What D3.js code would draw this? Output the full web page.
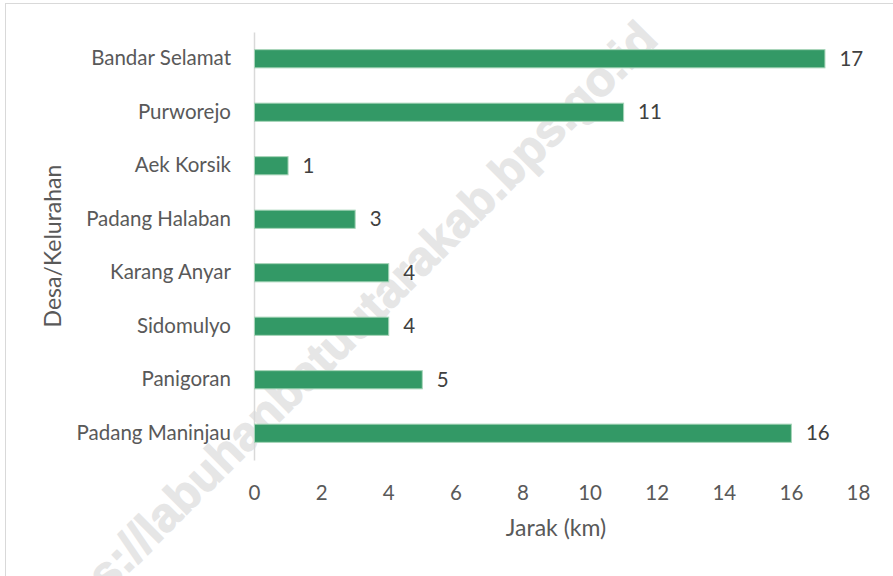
<!DOCTYPE html>
<html>
<head>
<meta charset="utf-8">
<script src="https://cdn.jsdelivr.net/npm/d3@7"></script>
<style>
  html, body { margin: 0; padding: 0; background: #ffffff; }
  svg { display: block; font-family: Lato, "Open Sans", sans-serif; }
</style>
</head>
<body>
<svg id="chart"></svg>
<script>
// Données du graphique
const desa = [
  "Bandar Selamat",
  "Purworejo",
  "Aek Korsik",
  "Padang Halaban",
  "Karang Anyar",
  "Sidomulyo",
  "Panigoran",
  "Padang Maninjau"
];
const jarak = [17, 11, 1, 3, 4, 4, 5, 16];
const xTicks = [0, 2, 4, 6, 8, 10, 12, 14, 16, 18];
const xTitle = "Jarak (km)";
const yTitle = "Desa/Kelurahan";
const watermark = "https://labuhanbatuutarakab.bps.go.id";

// Dimensions
const width = 893,
  height = 576;
const plot = { left: 254, right: 858, top: 32, bottom: 460 };
const labelSize = 20.5;

const svg = d3.select("#chart").attr("width", width).attr("height", height);

// Cadre du graphique
svg
  .append("rect")
  .attr("x", 5.5)
  .attr("y", 3.5)
  .attr("width", 920)
  .attr("height", 620)
  .attr("fill", "#ffffff")
  .attr("stroke", "#d9d9d9")
  .attr("stroke-width", 1);

// Filigrane (derrière les barres), coupé par les bords comme dans l'original
svg
  .append("text")
  .attr("transform", "translate(648,30) rotate(-45)")
  .attr("text-anchor", "end")
  .attr("dominant-baseline", "central")
  .attr("font-family", "'Liberation Sans', Arial, sans-serif")
  .attr("font-size", 48)
  .attr("font-weight", "bold")
  .attr("fill", "#e6e6e6")
  .attr("stroke", "#e6e6e6")
  .attr("stroke-width", 1.2)
  .text(watermark);

// Echelles
const x = d3
  .scaleLinear()
  .domain([0, 18])
  .range([plot.left, plot.right]);

const y = d3
  .scaleBand()
  .domain(desa)
  .range([plot.top, plot.bottom])
  .paddingInner(0.66)
  .paddingOuter(0.33);

const data = desa.map((d, i) => ({ name: d, value: jarak[i] }));

// Axe X (étiquettes seulement)
const xAxis = svg
  .append("g")
  .attr("transform", `translate(0,${plot.bottom})`)
  .call(
    d3
      .axisBottom(x)
      .tickValues(xTicks)
      .tickSize(0)
  );
xAxis.select(".domain").remove();
xAxis
  .selectAll("text")
  .attr("font-family", "Lato, sans-serif")
  .attr("font-size", labelSize)
  .attr("fill", "#595959")
  .attr("dy", "0.35em")
  .attr("y", 33);

// Axe Y
const yAxis = svg
  .append("g")
  .attr("transform", `translate(${plot.left},0)`)
  .call(
    d3
      .axisLeft(y)
      .tickSize(0)
      .tickPadding(23)
  );
yAxis
  .select(".domain")
  .attr("stroke", "#d9d9d9")
  .attr("stroke-width", 1.5);
yAxis
  .selectAll("text")
  .attr("font-family", "Lato, sans-serif")
  .attr("font-size", labelSize)
  .attr("fill", "#595959");

// Barres
svg
  .append("g")
  .selectAll("rect")
  .data(data)
  .join("rect")
  .attr("x", x(0) + 0.5)
  .attr("y", d => y(d.name))
  .attr("width", d => x(d.value) - x(0))
  .attr("height", y.bandwidth())
  .attr("fill", "#339966")
  .attr("stroke", "#a6d4b8")
  .attr("stroke-width", 1);

// Etiquettes de valeurs
svg
  .append("g")
  .selectAll("text")
  .data(data)
  .join("text")
  .attr("x", d => x(d.value) + 15)
  .attr("y", d => y(d.name) + y.bandwidth() / 2)
  .attr("dy", "0.35em")
  .attr("font-size", labelSize)
  .attr("fill", "#404040")
  .text(d => d.value);

// Titres des axes
svg
  .append("text")
  .attr("x", (plot.left + plot.right) / 2)
  .attr("y", 536)
  .attr("text-anchor", "middle")
  .attr("font-size", 23)
  .attr("fill", "#595959")
  .text(xTitle);

svg
  .append("text")
  .attr("transform", `translate(61,${(plot.top + plot.bottom) / 2}) rotate(-90)`)
  .attr("text-anchor", "middle")
  .attr("font-size", 23)
  .attr("fill", "#595959")
  .text(yTitle);
</script>
</body>
</html>
